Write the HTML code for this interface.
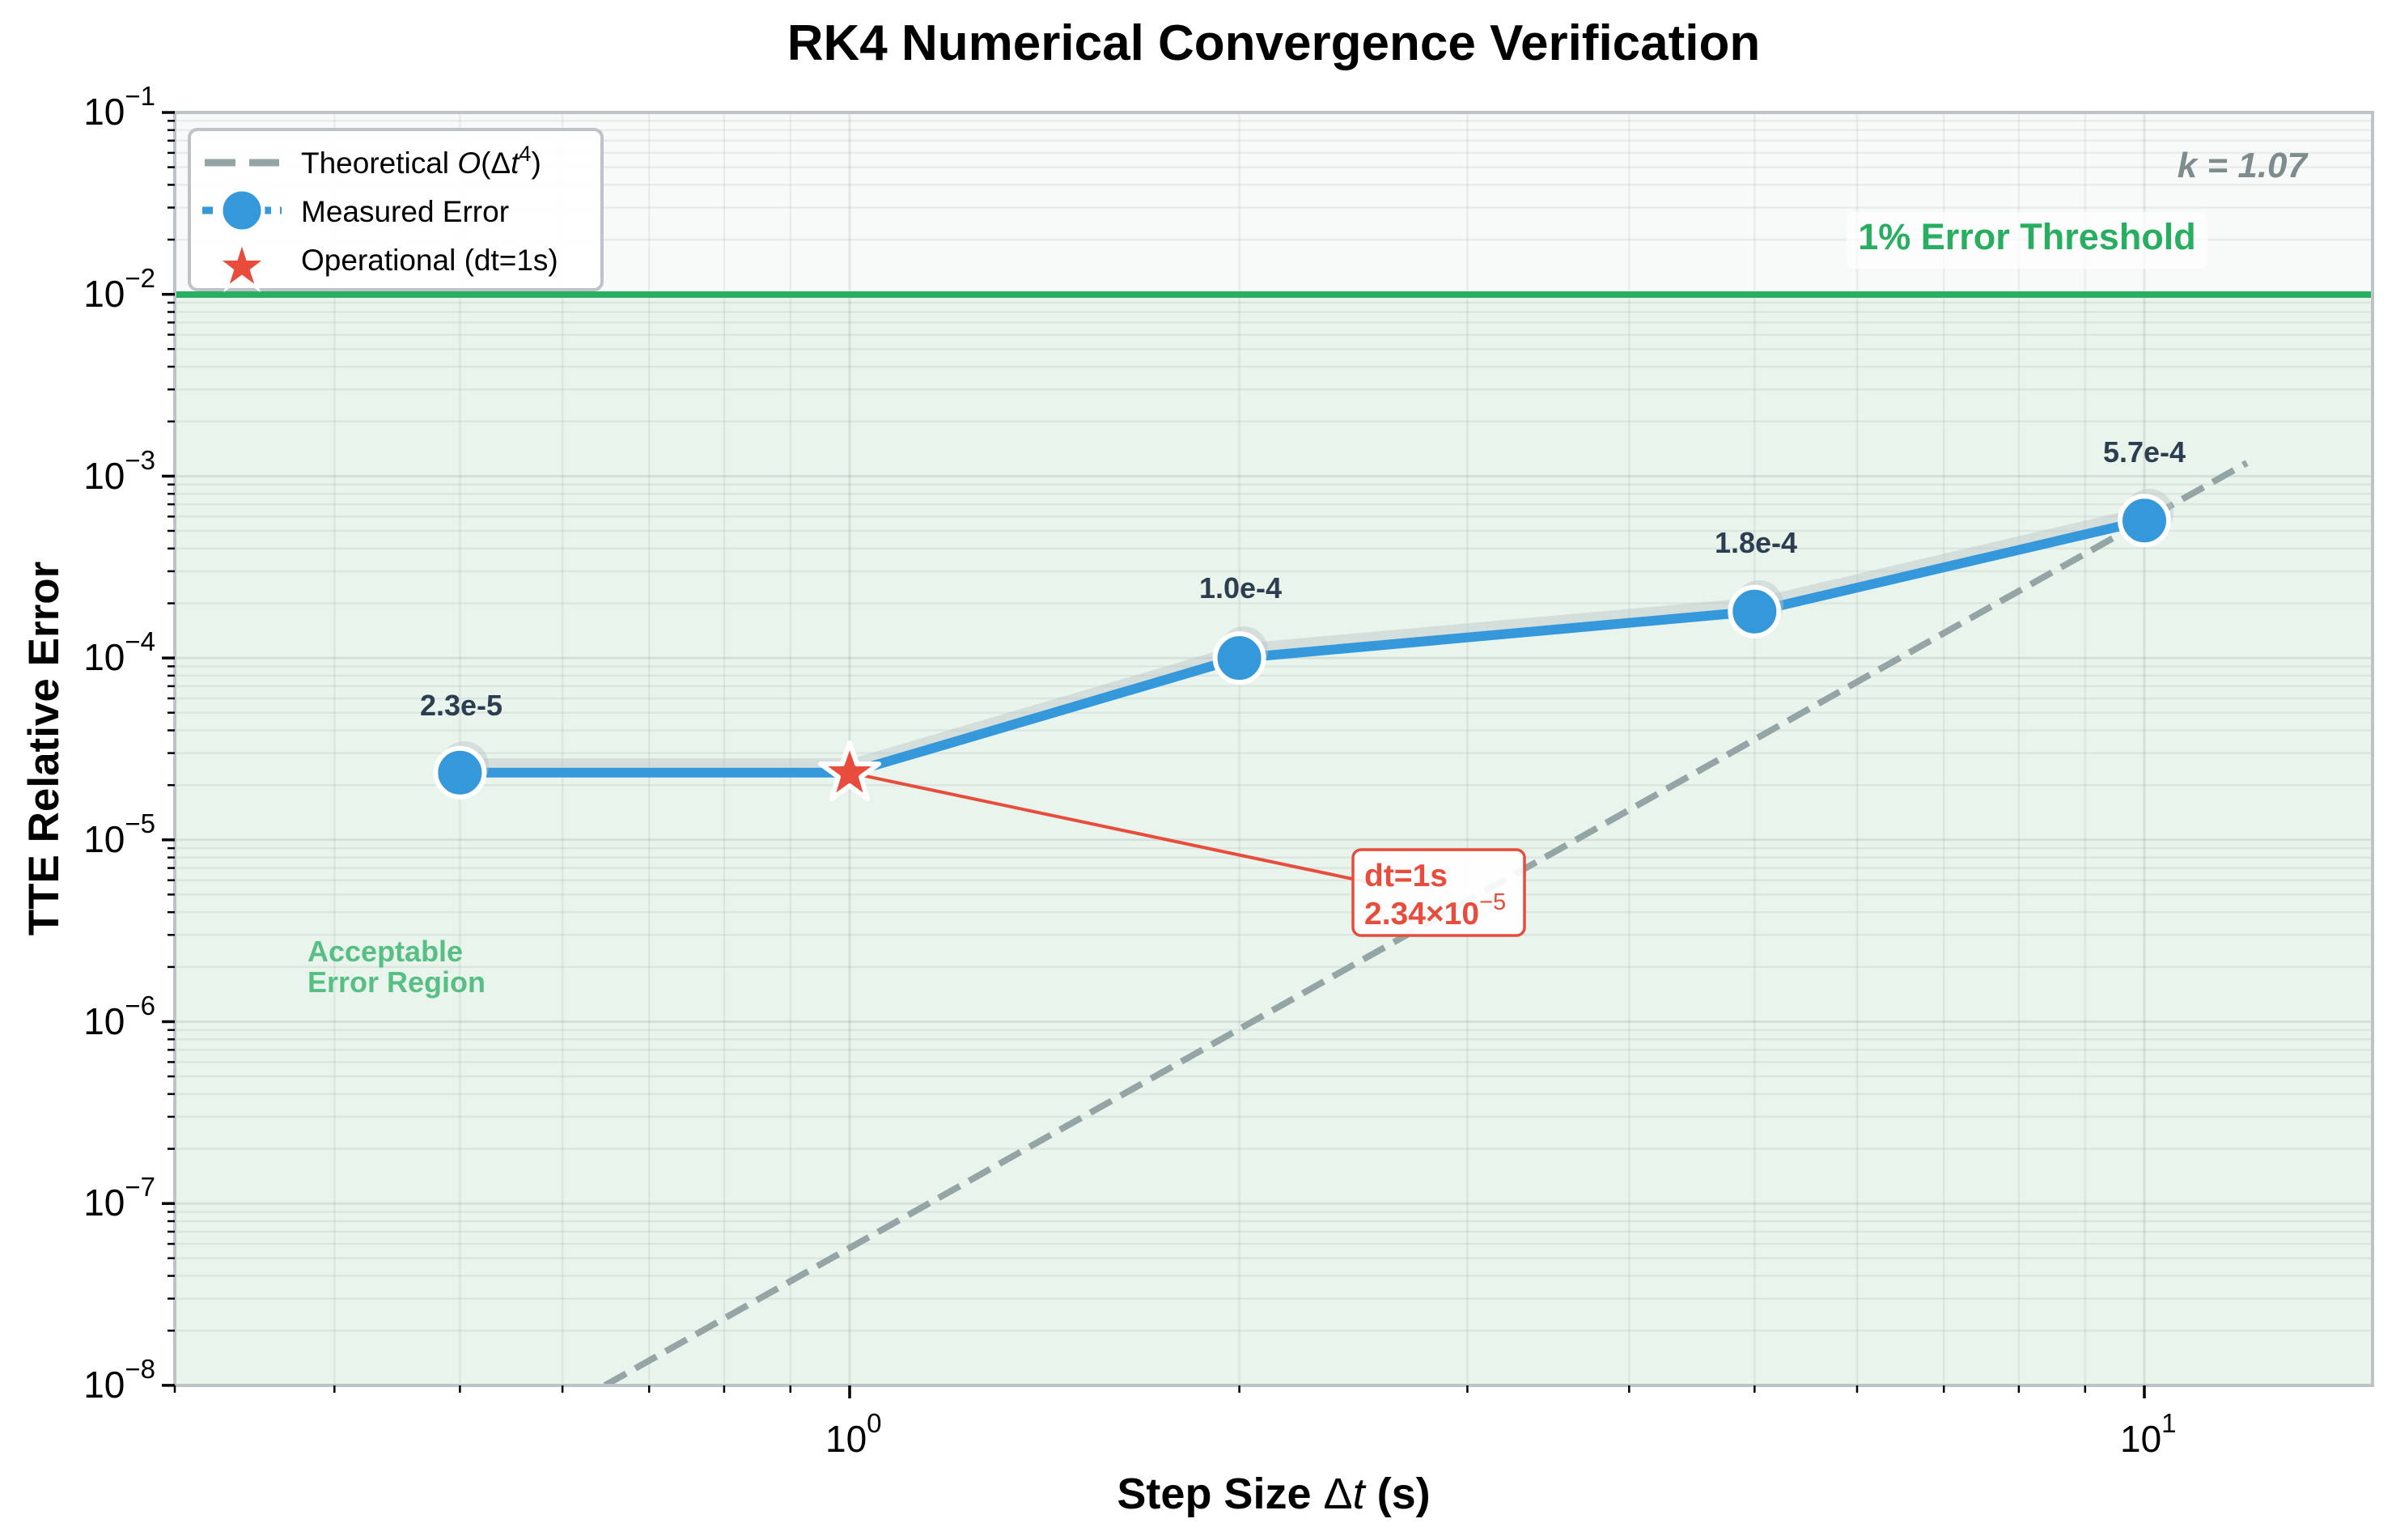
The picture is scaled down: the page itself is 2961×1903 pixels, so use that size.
<!DOCTYPE html>
<html><head><meta charset="utf-8"><style>
html,body{margin:0;padding:0;background:#fff;}
svg{display:block;font-family:"Liberation Sans",Arial,sans-serif;}
</style></head><body>
<svg width="2961" height="1903" viewBox="0 0 2961 1903" xmlns="http://www.w3.org/2000/svg">
<defs>
<g id="ydec">
<line x1="216" x2="2932" y1="-67.6" y2="-67.6"/><line x1="216" x2="2932" y1="-107.2" y2="-107.2"/>
<line x1="216" x2="2932" y1="-135.3" y2="-135.3"/><line x1="216" x2="2932" y1="-157.1" y2="-157.1"/>
<line x1="216" x2="2932" y1="-174.8" y2="-174.8"/><line x1="216" x2="2932" y1="-189.9" y2="-189.9"/>
<line x1="216" x2="2932" y1="-202.9" y2="-202.9"/><line x1="216" x2="2932" y1="-214.4" y2="-214.4"/>
</g>
<g id="ytk">
<line x1="207" x2="216" y1="-67.6" y2="-67.6"/><line x1="207" x2="216" y1="-107.2" y2="-107.2"/>
<line x1="207" x2="216" y1="-135.3" y2="-135.3"/><line x1="207" x2="216" y1="-157.1" y2="-157.1"/>
<line x1="207" x2="216" y1="-174.8" y2="-174.8"/><line x1="207" x2="216" y1="-189.9" y2="-189.9"/>
<line x1="207" x2="216" y1="-202.9" y2="-202.9"/><line x1="207" x2="216" y1="-214.4" y2="-214.4"/>
</g>
<clipPath id="ax"><rect x="216" y="139" width="2716" height="1573"/></clipPath>
</defs>

<rect x="216" y="139" width="2716" height="225" fill="#f8f9f9"/>
<rect x="216" y="364" width="2716" height="1348" fill="#e8f4ec"/>

<g stroke="rgba(0,0,0,0.055)" stroke-width="2.5">
<use href="#ydec" transform="translate(0,363.7)"/><use href="#ydec" transform="translate(0,588.4)"/>
<use href="#ydec" transform="translate(0,813.1)"/><use href="#ydec" transform="translate(0,1037.8)"/>
<use href="#ydec" transform="translate(0,1262.5)"/><use href="#ydec" transform="translate(0,1487.2)"/>
<use href="#ydec" transform="translate(0,1711.9)"/>
</g>
<g stroke="rgba(0,0,0,0.055)" stroke-width="2.5">
<line x1="413.3" x2="413.3" y1="139" y2="1712"/><line x1="568.4" x2="568.4" y1="139" y2="1712"/>
<line x1="695.1" x2="695.1" y1="139" y2="1712"/><line x1="802.2" x2="802.2" y1="139" y2="1712"/>
<line x1="894.9" x2="894.9" y1="139" y2="1712"/><line x1="976.8" x2="976.8" y1="139" y2="1712"/>
<line x1="1531.6" x2="1531.6" y1="139" y2="1712"/><line x1="1813.4" x2="1813.4" y1="139" y2="1712"/>
<line x1="2013.3" x2="2013.3" y1="139" y2="1712"/><line x1="2168.3" x2="2168.3" y1="139" y2="1712"/>
<line x1="2295" x2="2295" y1="139" y2="1712"/><line x1="2402.2" x2="2402.2" y1="139" y2="1712"/>
<line x1="2494.9" x2="2494.9" y1="139" y2="1712"/><line x1="2576.8" x2="2576.8" y1="139" y2="1712"/>
</g>
<g stroke="rgba(0,0,0,0.08)" stroke-width="3">
<line x1="1050" x2="1050" y1="139" y2="1712"/><line x1="2650" x2="2650" y1="139" y2="1712"/>
<line x1="216" x2="2932" y1="588.4" y2="588.4"/><line x1="216" x2="2932" y1="813.1" y2="813.1"/>
<line x1="216" x2="2932" y1="1037.8" y2="1037.8"/><line x1="216" x2="2932" y1="1262.5" y2="1262.5"/>
<line x1="216" x2="2932" y1="1487.2" y2="1487.2"/>
</g>

<line x1="216" x2="2932" y1="364" y2="364" stroke="#27ae60" stroke-width="8"/>

<g clip-path="url(#ax)">
<line x1="747.6" y1="1712" x2="2776.7" y2="572" stroke="#95a5a6" stroke-width="8" stroke-dasharray="30,13"/>
<polyline points="574,945 1056,945 1538,803 2174,746 2656,633" fill="none" stroke="#bdc3c7" stroke-opacity="0.45" stroke-width="16" stroke-linejoin="round"/>
<polyline points="568.4,954.8 1050,954.8 1531.6,813.1 2168.3,755.7 2650,643.3" fill="none" stroke="#3498db" stroke-width="12" stroke-linejoin="round"/>
<line x1="1050" y1="954.8" x2="1690" y2="1090" stroke="#e74c3c" stroke-width="4"/>
<g fill="#bdc3c7" fill-opacity="0.45">
<circle cx="574" cy="946" r="30"/><circle cx="1537" cy="804" r="30"/><circle cx="2174" cy="747" r="30"/><circle cx="2656" cy="634" r="30"/>
</g>
<g fill="#3498db" stroke="#fff" stroke-width="6">
<circle cx="568.4" cy="954.8" r="30"/><circle cx="1531.6" cy="813.1" r="30"/>
<circle cx="2168.3" cy="755.7" r="30"/><circle cx="2650" cy="643.3" r="30"/>
</g>
<polygon points="1050,918 1059,944 1086,944 1064,960 1072,987 1050,971 1028,987 1036,960 1014,944 1041,944" fill="#e74c3c" stroke="#fff" stroke-width="6" stroke-linejoin="round"/>
</g>

<rect x="216" y="139" width="2716" height="1573" fill="none" stroke="#bdc3c7" stroke-width="4"/>

<g stroke="#000" stroke-width="2.5">
<use href="#ytk" transform="translate(0,363.7)"/><use href="#ytk" transform="translate(0,588.4)"/>
<use href="#ytk" transform="translate(0,813.1)"/><use href="#ytk" transform="translate(0,1037.8)"/>
<use href="#ytk" transform="translate(0,1262.5)"/><use href="#ytk" transform="translate(0,1487.2)"/>
<use href="#ytk" transform="translate(0,1711.9)"/>
</g>
<g stroke="#000" stroke-width="3.5">
<line x1="200" x2="216" y1="139" y2="139"/><line x1="200" x2="216" y1="363.7" y2="363.7"/>
<line x1="200" x2="216" y1="588.4" y2="588.4"/><line x1="200" x2="216" y1="813.1" y2="813.1"/>
<line x1="200" x2="216" y1="1037.8" y2="1037.8"/><line x1="200" x2="216" y1="1262.5" y2="1262.5"/>
<line x1="200" x2="216" y1="1487.2" y2="1487.2"/><line x1="200" x2="216" y1="1711.9" y2="1711.9"/>
<line x1="1050" x2="1050" y1="1712" y2="1728"/><line x1="2650" x2="2650" y1="1712" y2="1728"/>
</g>
<g stroke="#000" stroke-width="2.5">
<line x1="216" x2="216" y1="1712" y2="1721"/><line x1="413.3" x2="413.3" y1="1712" y2="1721"/>
<line x1="568.4" x2="568.4" y1="1712" y2="1721"/><line x1="695.1" x2="695.1" y1="1712" y2="1721"/>
<line x1="802.2" x2="802.2" y1="1712" y2="1721"/><line x1="894.9" x2="894.9" y1="1712" y2="1721"/>
<line x1="976.8" x2="976.8" y1="1712" y2="1721"/><line x1="1531.6" x2="1531.6" y1="1712" y2="1721"/>
<line x1="1813.4" x2="1813.4" y1="1712" y2="1721"/><line x1="2013.3" x2="2013.3" y1="1712" y2="1721"/>
<line x1="2168.3" x2="2168.3" y1="1712" y2="1721"/><line x1="2295" x2="2295" y1="1712" y2="1721"/>
<line x1="2402.2" x2="2402.2" y1="1712" y2="1721"/><line x1="2494.9" x2="2494.9" y1="1712" y2="1721"/>
<line x1="2576.8" x2="2576.8" y1="1712" y2="1721"/>
</g>

<g font-size="46" fill="#000" text-anchor="end">
<text x="192" y="154">10<tspan dy="-24" font-size="33">−1</tspan></text>
<text x="192" y="379">10<tspan dy="-24" font-size="33">−2</tspan></text>
<text x="192" y="604">10<tspan dy="-24" font-size="33">−3</tspan></text>
<text x="192" y="828">10<tspan dy="-24" font-size="33">−4</tspan></text>
<text x="192" y="1053">10<tspan dy="-24" font-size="33">−5</tspan></text>
<text x="192" y="1278">10<tspan dy="-24" font-size="33">−6</tspan></text>
<text x="192" y="1502">10<tspan dy="-24" font-size="33">−7</tspan></text>
<text x="192" y="1727">10<tspan dy="-24" font-size="33">−8</tspan></text>
</g>
<g font-size="46" fill="#000">
<text x="1020" y="1794">10<tspan dy="-24" font-size="33">0</tspan></text>
<text x="2620" y="1794">10<tspan dy="-24" font-size="33">1</tspan></text>
</g>

<text x="1574" y="74" text-anchor="middle" font-size="62" font-weight="bold">RK4 Numerical Convergence Verification</text>
<text x="1574" y="1864" text-anchor="middle" font-size="54" font-weight="bold">Step Size <tspan font-weight="normal">Δ<tspan font-style="italic">t</tspan></tspan> (s)</text>
<text transform="translate(72,925) rotate(-90)" text-anchor="middle" font-size="53" font-weight="bold">TTE Relative Error</text>

<g font-size="36" font-weight="bold" fill="#2c3e50" text-anchor="middle">
<text x="570" y="884">2.3e-5</text>
<text x="1533" y="739">1.0e-4</text>
<text x="2170" y="683">1.8e-4</text>
<text x="2650" y="571">5.7e-4</text>
</g>

<rect x="2282" y="262" width="446" height="70" rx="8" fill="#fff" fill-opacity="0.7"/>
<text x="2505" y="308" text-anchor="middle" font-size="45" font-weight="bold" fill="#27ae60">1% Error Threshold</text>
<text x="2851" y="219" text-anchor="end" font-size="44" font-weight="bold" font-style="italic" fill="#7f8c8d">k = 1.07</text>

<text x="380" y="1188" font-size="36" font-weight="bold" fill="#27ae60" fill-opacity="0.75">Acceptable</text>
<text x="380" y="1226" font-size="36" font-weight="bold" fill="#27ae60" fill-opacity="0.75">Error Region</text>

<rect x="1672" y="1050" width="212" height="106" rx="10" fill="#fff" fill-opacity="0.9" stroke="#e74c3c" stroke-width="3.5"/>
<g font-size="39" font-weight="bold" fill="#e74c3c">
<text x="1686" y="1095">dt=1s</text>
<text x="1686" y="1142">2.34×10<tspan dy="-18" font-size="29" font-weight="normal">−5</tspan></text>
</g>

<rect x="234" y="160" width="510" height="198" rx="10" fill="#fff" fill-opacity="0.92" stroke="#bdc3c7" stroke-width="4"/>
<line x1="253" x2="345" y1="201" y2="201" stroke="#95a5a6" stroke-width="9" stroke-dasharray="38,17"/>
<line x1="250" x2="348" y1="260" y2="260" stroke="#3498db" stroke-width="9" stroke-dasharray="13,11"/>
<circle cx="299" cy="260" r="26" fill="#3498db" stroke="#fff" stroke-width="5"/>
<polygon points="299,298 306,320 329,320 311,334 318,356 299,342 280,356 287,334 269,320 292,320" fill="#e74c3c" stroke="#fff" stroke-width="4"/>
<g font-size="37" fill="#000">
<text x="372" y="214">Theoretical <tspan font-style="italic">O</tspan>(Δ<tspan font-style="italic">t</tspan><tspan dy="-15" font-size="27">4</tspan><tspan dy="15">)</tspan></text>
<text x="372" y="274">Measured Error</text>
<text x="372" y="334">Operational (dt=1s)</text>
</g>
</svg>
</body></html>
